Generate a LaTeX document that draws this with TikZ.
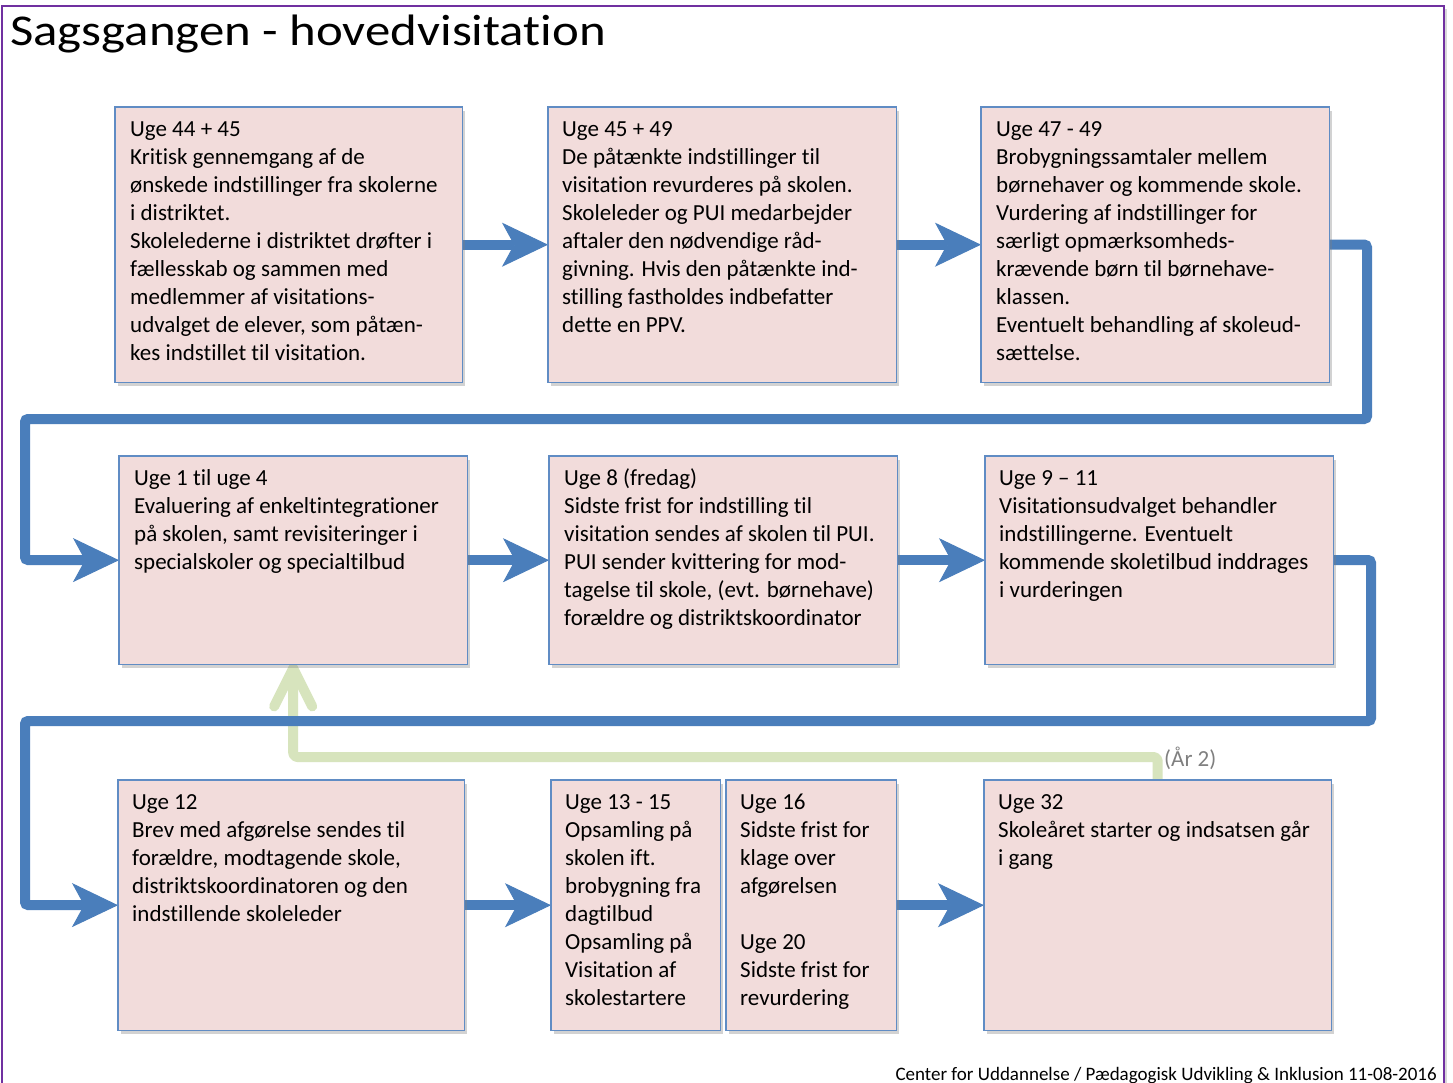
\documentclass[tikz,border=0pt]{standalone}
\usepackage{fontspec}
\setmainfont{Carlito}[Ligatures={TeX,NoCommon}]
\usetikzlibrary{arrows.meta,shadows,calc}
\definecolor{pinkfill}{RGB}{242,220,219}
\definecolor{boxline}{RGB}{96,140,196}
\definecolor{flowblue}{RGB}{74,126,187}
\definecolor{paleg}{RGB}{215,228,189}
\definecolor{framepurple}{RGB}{112,48,160}
\definecolor{labelgray}{RGB}{128,128,128}
\begin{document}
\begin{tikzpicture}[x=1pt,y=-1pt,
  stagetext/.style={anchor=north west, inner sep=0pt, align=left, font=\fontsize{23}{28}\selectfont},
  flow/.style={draw=flowblue, line width=10pt, rounded corners=3pt,
    -{Stealth[length=46pt,width=44pt,inset=12pt,line width=1pt]}},
  backflow/.style={draw=paleg, line width=10pt, line cap=round, line join=round, rounded corners=4pt},
  tag/.style={anchor=west, inner sep=0pt, text=labelgray, font=\fontsize{23}{28}\selectfont},
  slot/.style={anchor=north west, inner sep=0pt},
  stagebox/.style={boxline, fill=pinkfill, line width=1.3pt,
    drop shadow={shadow xshift=3pt, shadow yshift=-4pt, opacity=0.35}}
]
\useasboundingbox (0,0) rectangle (1453,1083);
\clip (0,0) rectangle (1453,1083);
\fill[white] (0,0) rectangle (1453,1083);
\draw[framepurple, line width=2.5pt, fill=white,
  drop shadow={shadow xshift=3pt, shadow yshift=-3pt, opacity=0.3}] (2,6) rectangle (1444,1130);

\node[anchor=base west, inner sep=0pt, font=\fontsize{44}{50}\selectfont] (title) at (10,46)
  {\scalebox{1.155}[1]{Sagsgangen - hovedvisitation}};

% box frames (named nodes for connector anchors)
\node[slot, minimum width=347pt, minimum height=275pt] (A) at (115,107) {};
\node[slot, minimum width=348pt, minimum height=275pt] (B) at (548,107) {};
\node[slot, minimum width=348pt, minimum height=275pt] (C) at (981,107) {};
\node[slot, minimum width=348pt, minimum height=208pt] (D) at (119,456) {};
\node[slot, minimum width=348pt, minimum height=208pt] (E) at (549,456) {};
\node[slot, minimum width=348pt, minimum height=208pt] (F) at (985,456) {};
\node[slot, minimum width=346pt, minimum height=250pt] (G) at (118,780) {};
\node[slot, minimum width=169pt, minimum height=250pt] (H) at (551,780) {};
\node[slot, minimum width=170pt, minimum height=250pt] (K) at (726,780) {};
\node[slot, minimum width=347pt, minimum height=250pt] (I) at (984,780) {};

% year-2 return arrow
\draw[backflow] (I.north) -- ++(0,-23) -| ($(D.south)+(0,4)$);
\draw[backflow, rounded corners=0pt] ($(D.south)+(-19,42)$) -- ($(D.south)+(0,4)$) -- ($(D.south)+(19,42)$);
\node[tag] (yr) at (1164,758) {(År 2)};

% flow connectors
\draw[flow] (A.east) -- (B.west);
\draw[flow] (B.east) -- (C.west);
\draw[flow] (C.east) -- (1367,244.5) -- (1367,419) -- (25,419) -- (25,560) -- (D.west);
\draw[flow] (D.east) -- (E.west);
\draw[flow] (E.east) -- (F.west);
\draw[flow] (F.east) -- (1371,560) -- (1371,721) -- (25,721) -- (25,905) -- (G.west);
\draw[flow] (G.east) -- (H.west);
\draw[flow] (K.east) -- (I.west);

% visible boxes
\foreach \n in {A,B,C,D,E,F,G,H,K,I}{
  \draw[stagebox] (\n.north west) rectangle (\n.south east);
}

% texts
\node[stagetext] (tA) at ($(A.north west)+(15,10)$) {\strut Uge 44 + 45\\Kritisk gennemgang af de\\ønskede indstillinger fra skolerne\\i distriktet.\\Skolelederne i distriktet drøfter i\\fællesskab og sammen med\\medlemmer af visitations-\\udvalget de elever, som påtæn-\\kes indstillet til visitation.};
\node[stagetext] (tB) at ($(B.north west)+(14,10)$) {\strut Uge 45 + 49\\De påtænkte indstillinger til\\visitation revurderes på skolen.\\Skoleleder og PUI medarbejder\\aftaler den nødvendige råd-\\givning. Hvis den påtænkte ind-\\stilling fastholdes indbefatter\\dette en PPV.};
\node[stagetext] (tC) at ($(C.north west)+(15,10)$) {\strut Uge 47 - 49\\Brobygningssamtaler mellem\\børnehaver og kommende skole.\\Vurdering af indstillinger for\\særligt opmærksomheds-\\krævende børn til børnehave-\\klassen.\\Eventuelt behandling af skoleud-\\sættelse.};
\node[stagetext] (tD) at ($(D.north west)+(15,10)$) {\strut Uge 1 til uge 4\\Evaluering af enkeltintegrationer\\på skolen, samt revisiteringer i\\specialskoler og specialtilbud};
\node[stagetext] (tE) at ($(E.north west)+(15,10)$) {\strut Uge 8 (fredag)\\Sidste frist for indstilling til\\visitation sendes af skolen til PUI.\\PUI sender kvittering for mod-\\tagelse til skole, (evt. børnehave)\\forældre og distriktskoordinator};
\node[stagetext] (tF) at ($(F.north west)+(14,10)$) {\strut Uge 9 – 11\\Visitationsudvalget behandler\\indstillingerne. Eventuelt\\kommende skoletilbud inddrages\\i vurderingen};
\node[stagetext] (tG) at ($(G.north west)+(14,10)$) {\strut Uge 12\\Brev med afgørelse sendes til\\forældre, modtagende skole,\\distriktskoordinatoren og den\\indstillende skoleleder};
\node[stagetext] (tH) at ($(H.north west)+(14,10)$) {\strut Uge 13 - 15\\Opsamling på\\skolen ift.\\brobygning fra\\dagtilbud\\Opsamling på\\Visitation af\\skolestartere};
\node[stagetext] (tK) at ($(K.north west)+(14,10)$) {\strut Uge 16\\Sidste frist for\\klage over\\afgørelsen\\[28pt]Uge 20\\Sidste frist for\\revurdering};
\node[stagetext] (tI) at ($(I.north west)+(14,10)$) {\strut Uge 32\\Skoleåret starter og indsatsen går\\i gang};

\node[anchor=base east, inner sep=0pt, font=\fontsize{19}{22}\selectfont] (foot) at (1437,1080)
  {Center for Uddannelse / Pædagogisk Udvikling \& Inklusion 11-08-2016};
\end{tikzpicture}
\end{document}
